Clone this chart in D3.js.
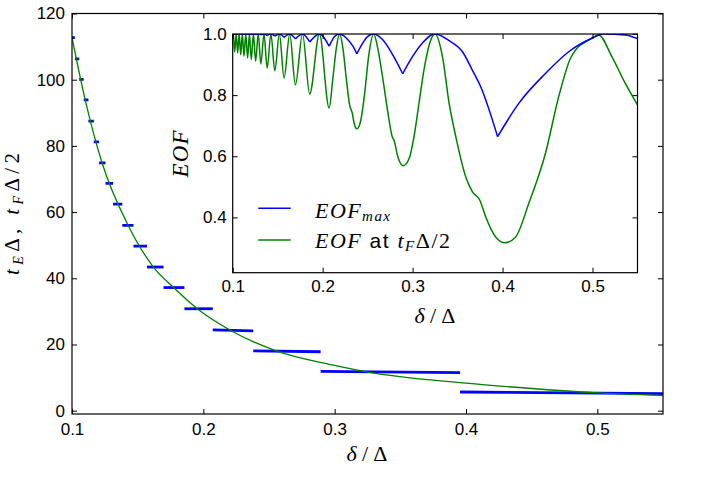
<!DOCTYPE html>
<html>
<head>
<meta charset="utf-8">
<title>EOF and fidelity times</title>
<script src="https://d3js.org/d3.v7.min.js"></script>
<style>
  body { margin: 0; background: #fff; }
  .math { font-family: "Liberation Serif", "DejaVu Serif", serif; }
</style>
</head>
<body>
<div id="chart"></div>
<script>
// ---- main panel data ----
const mainXTicks = [0.1, 0.2, 0.3, 0.4, 0.5];
const mainYTicks = [0, 20, 40, 60, 80, 100, 120];

// blue plateaus t_E*Delta: edges in delta/Delta, value at left / right end
const stepEdges = [0.1000, 0.1022, 0.1055, 0.1089, 0.1125, 0.1166, 0.1206, 0.1255, 0.1313, 0.1383,
                   0.1468, 0.1571, 0.1697, 0.1856, 0.2072, 0.2380, 0.2893, 0.3955, 0.5500];
const stepStart = [112.7, 106.3, 100.1, 93.9, 87.5, 81.2, 74.9, 68.7, 62.4, 56.0,
                   49.7, 43.4, 37.2, 30.8, 24.4, 18.1, 11.9, 5.65];
const stepEnd   = [112.7, 106.3, 100.1, 93.9, 87.5, 81.2, 74.9, 68.7, 62.4, 56.0,
                   49.7, 43.4, 37.2, 30.8, 24.1, 17.8, 11.5, 5.15];

// green curve t_F*Delta/2
const tfDelta = [0.100, 0.110, 0.1228, 0.1426, 0.162, 0.1773, 0.1977, 0.2205, 0.256, 0.300,
                 0.3245, 0.400, 0.450, 0.4967, 0.550];
const tfValue = [112.7, 94.0, 75.0, 56.1, 43.4, 37.2, 30.1, 24.3, 18.0, 13.7,
                 11.7, 8.3, 6.7, 5.45, 4.6];

// ---- inset data ----
const insetXTicks = [0.1, 0.2, 0.3, 0.4, 0.5];
const insetYTicks = [0.4, 0.6, 0.8, 1.0];

const eofMaxDelta = [0.1000, 0.1006, 0.1022, 0.1039, 0.1055, 0.1072, 0.1089, 0.1107, 0.1125, 0.1145,
                     0.1166, 0.1186, 0.1206, 0.1230, 0.1255, 0.1284, 0.1313, 0.1348, 0.1383, 0.1425,
                     0.1468, 0.1519, 0.1571, 0.1634, 0.1697, 0.1776, 0.1856, 0.1964, 0.2072, 0.2133,
                     0.2188, 0.2262, 0.2336, 0.2380, 0.2447, 0.2502, 0.2568, 0.2668, 0.2779, 0.2890,
                     0.3000, 0.3111, 0.3204, 0.3249, 0.3406, 0.3554, 0.3664, 0.3757, 0.3945, 0.4180,
                     0.4477, 0.4735, 0.4993, 0.5120, 0.5360, 0.5500];
const eofMaxValue = [0.9998, 1.0, 0.9992, 1.0, 0.9992, 1.0, 0.9991, 1.0, 0.999, 1.0,
                     0.9988, 1.0, 0.9985, 1.0, 0.998, 1.0, 0.997, 1.0, 0.995, 1.0,
                     0.993, 1.0, 0.989, 1.0, 0.984, 1.0, 0.974, 1.0, 0.960, 0.992,
                     1.0, 0.987, 0.960, 0.935, 0.971, 0.992, 1.0, 0.981, 0.932, 0.870,
                     0.927, 0.971, 0.996, 1.0, 0.978, 0.942, 0.882, 0.8275, 0.664, 0.773,
                     0.871, 0.942, 0.986, 1.0, 0.997, 0.985];

const eofDelta = [0.1000, 0.1006, 0.1022, 0.1039, 0.1055, 0.1072, 0.1089, 0.1107, 0.1125, 0.1145,
                  0.1166, 0.1186, 0.1206, 0.1230, 0.1255, 0.1284, 0.1313, 0.1348, 0.1383, 0.1425,
                  0.1468, 0.1519, 0.1571, 0.1634, 0.1697, 0.1776, 0.1856, 0.1964, 0.2072, 0.2114,
                  0.2152, 0.2188, 0.2225, 0.2262, 0.2299, 0.2329, 0.2354, 0.2380, 0.2417, 0.2465,
                  0.2513, 0.2568, 0.2612, 0.2668, 0.2723, 0.2772, 0.2797, 0.2834, 0.2897, 0.2963,
                  0.3019, 0.3074, 0.3130, 0.3185, 0.3249, 0.3332, 0.3406, 0.3480, 0.3590, 0.3664,
                  0.3746, 0.3812, 0.3923, 0.4027, 0.4145, 0.4292, 0.4477, 0.4624, 0.4754, 0.4827,
                  0.4957, 0.5067, 0.5215, 0.5363, 0.5500];
const eofValue = [0.985, 1.0, 0.941, 1.0, 0.938, 1.0, 0.932, 1.0, 0.927, 1.0,
                  0.921, 1.0, 0.916, 1.0, 0.911, 1.0, 0.902, 1.0, 0.889, 1.0,
                  0.880, 1.0, 0.856, 1.0, 0.834, 1.0, 0.804, 1.0, 0.758, 0.856,
                  0.954, 1.0, 0.954, 0.856, 0.769, 0.741, 0.703, 0.690, 0.709, 0.801,
                  0.932, 1.0, 0.954, 0.856, 0.747, 0.665, 0.649, 0.600, 0.569, 0.594,
                  0.670, 0.780, 0.889, 0.965, 1.0, 0.926, 0.773, 0.664, 0.533, 0.484,
                  0.457, 0.402, 0.336, 0.317, 0.336, 0.446, 0.610, 0.795, 0.920, 0.953,
                  0.980, 0.997, 0.926, 0.839, 0.768];

const blue = "#0000ff", green = "#008000";
const width = 710, height = 479;

const svg = d3.select("#chart").append("svg")
    .attr("width", width)
    .attr("height", height)
    .style("background", "#fff");

// scales
const x = d3.scaleLinear().domain([0.1, 0.55]).range([72, 663]);
const y = d3.scaleLinear().domain([-1, 120]).range([414, 13.5]);
const xi = d3.scaleLinear().domain([0.1, 0.55]).range([232.7, 637.5]);
const yi = d3.scaleLinear().domain([0.219, 1.0]).range([272.7, 34]);

// draws inward ticks on four sides plus tick labels, and a clip rect
function axes(xs, ys, xt, yt, xfmt, yfmt, padX, padY, id) {
  const [x0, x1] = xs.range(), [y0, y1] = ys.range();
  svg.append("clipPath").attr("id", id).append("rect")
      .attr("x", x0).attr("y", y1).attr("width", x1 - x0).attr("height", y0 - y1);

  const style = g => {
    g.select(".domain").remove();
    g.attr("font-size", 17).attr("font-family", '"Liberation Sans", Arial, sans-serif');
    g.selectAll(".tick line").attr("stroke", "#000").attr("stroke-width", 1);
    g.selectAll(".tick text").attr("fill", "#000");
  };
  svg.append("g").attr("transform", `translate(0,${y0})`)
      .call(d3.axisBottom(xs).tickValues(xt).tickFormat(xfmt).tickSizeInner(-5).tickSizeOuter(0).tickPadding(padX))
      .call(style);
  svg.append("g").attr("transform", `translate(0,${y1})`)
      .call(d3.axisTop(xs).tickValues(xt).tickFormat("").tickSizeInner(-5).tickSizeOuter(0))
      .call(style);
  svg.append("g").attr("transform", `translate(${x0},0)`)
      .call(d3.axisLeft(ys).tickValues(yt).tickFormat(yfmt).tickSizeInner(-5).tickSizeOuter(0).tickPadding(padY))
      .call(style);
  svg.append("g").attr("transform", `translate(${x1},0)`)
      .call(d3.axisRight(ys).tickValues(yt).tickFormat("").tickSizeInner(-5).tickSizeOuter(0))
      .call(style);
}

function frame(xs, ys) {
  const [x0, x1] = xs.range(), [y0, y1] = ys.range();
  svg.append("rect")
      .attr("x", x0).attr("y", y1).attr("width", x1 - x0).attr("height", y0 - y1)
      .attr("fill", "none").attr("stroke", "#000").attr("stroke-width", 1.2);
}

// ---- main panel ----
const mainPlot = svg.append("g").attr("clip-path", "url(#clipMain)");

mainPlot.selectAll("line.step")
  .data(stepStart)
  .join("line")
    .attr("class", "step")
    .attr("x1", (d, i) => x(stepEdges[i]))
    .attr("x2", (d, i) => x(stepEdges[i + 1]))
    .attr("y1", d => y(d))
    .attr("y2", (d, i) => y(stepEnd[i]))
    .attr("stroke", blue)
    .attr("stroke-width", 2.8);

const mainLine = d3.line()
    .x(d => x(d[0]))
    .y(d => y(d[1]))
    .curve(d3.curveMonotoneX);

mainPlot.append("path")
    .datum(d3.zip(tfDelta, tfValue))
    .attr("d", mainLine)
    .attr("fill", "none")
    .attr("stroke", green)
    .attr("stroke-width", 1.3);

axes(x, y, mainXTicks, mainYTicks, d3.format(".1f"), d3.format("d"), 9, 7, "clipMain");
frame(x, y);

// axis titles
svg.append("text").attr("class", "math")
    .attr("x", 367).attr("y", 461)
    .attr("text-anchor", "middle")
    .attr("font-size", 22)
    .attr("textLength", 41).attr("lengthAdjust", "spacing")
    .html('<tspan font-style="italic">δ</tspan>/Δ');

svg.append("text").attr("class", "math")
    .attr("transform", "translate(18.5,214) rotate(-90)")
    .attr("text-anchor", "middle")
    .attr("font-size", 21)
    .attr("textLength", 122).attr("lengthAdjust", "spacing")
    .html('<tspan font-style="italic">t</tspan><tspan font-style="italic" font-size="14" dy="4">E</tspan>' +
          '<tspan dy="-4">Δ, </tspan><tspan font-style="italic">t</tspan>' +
          '<tspan font-style="italic" font-size="14" dy="4">F</tspan><tspan dy="-4">Δ/2</tspan>');

// ---- inset ----
svg.append("rect")
    .attr("x", xi.range()[0]).attr("y", yi.range()[1])
    .attr("width", xi.range()[1] - xi.range()[0])
    .attr("height", yi.range()[0] - yi.range()[1])
    .attr("fill", "#fff");

const insetPlot = svg.append("g").attr("clip-path", "url(#clipInset)");
const insetLine = d3.line()
    .x(d => xi(d[0]))
    .y(d => yi(d[1]))
    .curve(d3.curveMonotoneX);

// EOF_max has sharp cusps at its dips, so draw it arc by arc
const maxPts = d3.zip(eofMaxDelta, eofMaxValue);
const arcs = [];
let cur = [maxPts[0]];
for (let i = 1; i < maxPts.length; i++) {
  cur.push(maxPts[i]);
  const dip = i < maxPts.length - 1 && maxPts[i][1] < maxPts[i - 1][1] && maxPts[i][1] < maxPts[i + 1][1];
  if (dip) { arcs.push(cur); cur = [maxPts[i]]; }
}
arcs.push(cur);

insetPlot.append("path")
    .datum(d3.zip(eofDelta, eofValue))
    .attr("d", insetLine)
    .attr("fill", "none")
    .attr("stroke", green)
    .attr("stroke-width", 1.5);

insetPlot.selectAll("path.arc")
  .data(arcs)
  .join("path")
    .attr("class", "arc")
    .attr("d", insetLine)
    .attr("fill", "none")
    .attr("stroke", blue)
    .attr("stroke-width", 1.5);

axes(xi, yi, insetXTicks, insetYTicks, d3.format(".1f"), d3.format(".1f"), 7.5, 6, "clipInset");
frame(xi, yi);

svg.append("text").attr("class", "math")
    .attr("x", 435).attr("y", 322.5)
    .attr("text-anchor", "middle")
    .attr("font-size", 22)
    .attr("textLength", 41).attr("lengthAdjust", "spacing")
    .html('<tspan font-style="italic">δ</tspan>/Δ');

svg.append("text").attr("class", "math")
    .attr("transform", "translate(188,154) rotate(-90)")
    .attr("text-anchor", "middle")
    .attr("font-size", 23)
    .attr("font-style", "italic")
    .attr("textLength", 47).attr("lengthAdjust", "spacing")
    .text("EOF");

// legend (no frame)
const legend = svg.append("g");
legend.append("line")
    .attr("x1", 258.3).attr("x2", 290.7).attr("y1", 208.3).attr("y2", 208.3)
    .attr("stroke", blue).attr("stroke-width", 1.5);
legend.append("line")
    .attr("x1", 258.3).attr("x2", 290.7).attr("y1", 240).attr("y2", 240)
    .attr("stroke", green).attr("stroke-width", 1.5);

legend.append("text").attr("class", "math")
    .attr("x", 315).attr("y", 218)
    .attr("font-size", 22)
    .attr("textLength", 75).attr("lengthAdjust", "spacing")
    .html('<tspan font-style="italic">EOF</tspan><tspan font-style="italic" font-size="15" dy="3">max</tspan>');

legend.append("text").attr("class", "math")
    .attr("x", 315).attr("y", 247.5)
    .attr("font-size", 22)
    .attr("textLength", 135).attr("lengthAdjust", "spacing")
    .html('<tspan font-style="italic">EOF</tspan>' +
          '<tspan font-family="Liberation Sans, Arial, sans-serif" font-size="21"> at </tspan>' +
          '<tspan font-style="italic">t</tspan><tspan font-style="italic" font-size="15" dy="3">F</tspan>' +
          '<tspan dy="-3">Δ/2</tspan>');
</script>
</body>
</html>
